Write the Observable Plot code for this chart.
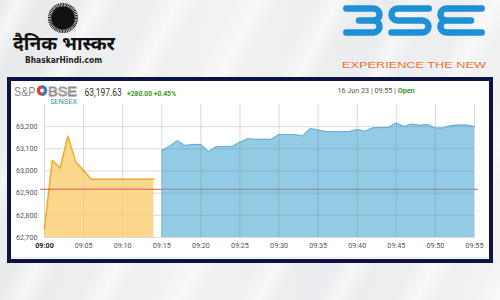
<!DOCTYPE html>
<html><head><meta charset="utf-8">
<script src="https://cdn.jsdelivr.net/npm/d3@7"></script>
<script src="https://cdn.jsdelivr.net/npm/@observablehq/plot@0.6"></script>
<style>
html,body{margin:0;padding:0;}
body{width:500px;height:300px;overflow:hidden;font-family:Roboto,"DejaVu Sans",sans-serif;}
#page{position:relative;width:500px;height:300px;overflow:hidden;
  background:
   repeating-linear-gradient(118deg, rgba(255,255,255,0) 0px, rgba(255,255,255,0.55) 18px, rgba(255,255,255,0) 36px, rgba(255,255,255,0) 70px),
   linear-gradient(100deg,#e8e9ec 0%,#f2f2f4 40%,#ebecef 70%,#f3f3f5 100%);}
#frame{position:absolute;left:7px;top:77px;width:486px;height:186px;box-sizing:border-box;border:4px solid #0c1242;background:#fff;}
#chart{position:absolute;left:0;top:0;}
#bline{position:absolute;left:0;top:176px;width:478px;height:1px;background:#e2e4e8;}
#deco{position:absolute;left:0;top:0;pointer-events:none;}
</style></head>
<body><div id="page">
<div id="frame"><div id="chart"></div><div id="bline"></div></div>
<svg id="deco" width="500" height="300" viewBox="0 0 500 300">
  <!-- Dainik Bhaskar logo -->
  <circle cx="63" cy="18" r="13.3" fill="none" stroke="#111" stroke-width="3.6" stroke-dasharray="0.9 0.7"/>
  <circle cx="63" cy="18" r="11.8" fill="#111"/>
  <text x="13" y="50" font-family="'Noto Sans','DejaVu Sans',sans-serif" font-weight="bold" font-size="18.5" fill="#111" textLength="102" lengthAdjust="spacingAndGlyphs">दैनिक भास्कर</text>
  <text x="25" y="62.5" font-family="'DejaVu Sans Condensed','DejaVu Sans',sans-serif" font-weight="bold" font-size="8" fill="#222" textLength="77" lengthAdjust="spacingAndGlyphs">BhaskarHindi.com</text>
  <!-- BSE logo -->
  <g fill="none" stroke="#1e90d6" stroke-width="6.5" stroke-linecap="round" stroke-linejoin="round">
    <path d="M346.3,8.5 H373.5 A6,6 0 0 1 373.5,20.5 H359 M373.5,20.5 A6,6 0 0 1 373.5,32.5 H346.3"/>
    <path d="M428.7,8.5 H397.5 A6,6 0 0 0 397.5,20.5 H422.5 A6,6 0 0 1 422.5,32.5 H391.5"/>
    <path d="M481.7,8.5 H446.5 A6,6 0 0 0 446.5,20.5 H471 M446.5,20.5 A6,6 0 0 0 446.5,32.5 H481.7"/>
  </g>
  <text x="342" y="67.5" font-family="'Liberation Sans',sans-serif" font-size="9.6" fill="#e9722c" textLength="144" lengthAdjust="spacingAndGlyphs">EXPERIENCE THE NEW</text>
  <!-- panel header -->
  <text x="14" y="96" font-family="'Liberation Sans',sans-serif" font-size="12.5" fill="#8c8c8c" textLength="21.5" lengthAdjust="spacingAndGlyphs">S&amp;P</text>
  <circle cx="42" cy="90.5" r="5.2" fill="#d8403c"/>
  <path d="M42,85.3 A5.2,5.2 0 0 1 42,95.7 Z" fill="#2f7fc1"/>
  <circle cx="42" cy="90.5" r="2" fill="#fff"/>
  <text x="48" y="95.5" font-family="'Liberation Sans',sans-serif" font-size="12.5" fill="none" stroke="#8c8c8c" stroke-width="0.8" textLength="29" lengthAdjust="spacingAndGlyphs">BSE</text>
  <text x="50" y="104" font-family="Roboto,sans-serif" font-size="7" fill="#3f93a8" textLength="27" lengthAdjust="spacingAndGlyphs">SENSEX</text>
  <text transform="translate(84.5,96) scale(1,1.25)" x="0" y="0" font-family="Roboto,sans-serif" font-size="8.5" fill="#333">63,197.63</text>
  <text x="127" y="95.5" font-family="Roboto,sans-serif" font-size="7.8" font-weight="bold" fill="#3a9a1c" textLength="49" lengthAdjust="spacingAndGlyphs">+280.00 +0.45%</text>
  <text x="337.5" y="93" font-family="Roboto,sans-serif" font-size="7.2" fill="#555">16 Jun 23 | 09:55 | <tspan fill="#3a9a1c" font-weight="bold">Open</tspan></text>
</svg>
</div>
<script>
// ---- data ----
const prevClose = 62917.63;
const orangeTimes = ["09:00","09:01","09:02","09:03","09:04","09:05","09:06","09:07","09:08","09:09","09:10","09:11","09:12","09:13","09:14"];
const orangeValues = [62741,63048,63013,63157,63040,63002,62963,62963,62963,62963,62963,62963,62963,62963,62963];
const blueTimes = ["09:15","09:16","09:17","09:18","09:19","09:20","09:21","09:22","09:23","09:24",
  "09:25","09:26","09:27","09:28","09:29","09:30","09:31","09:32","09:33","09:34",
  "09:35","09:36","09:37","09:38","09:39","09:40","09:41","09:42","09:43","09:44",
  "09:45","09:46","09:47","09:48","09:49","09:50","09:51","09:52","09:53","09:54","09:55"];
const blueValues = [63092,63112,63137,63115,63120,63120,63088,63110,63111,63111,
  63130,63145,63143,63143,63143,63165,63165,63165,63158,63192,
  63185,63178,63177,63177,63178,63187,63179,63195,63196,63197,
  63217,63201,63212,63206,63210,63194,63194,63205,63207,63207,63200];
const xTickLabels = ["09:00","09:05","09:10","09:15","09:20","09:25","09:30","09:35","09:40","09:45","09:50","09:55"];
const yTickValues = [62700,62800,62900,63000,63100,63200];
const yDomain = [62700,63300];

// ---- build ----
const toMin = s => { const [h,m] = s.split(":").map(Number); return (h-9)*60+m; };
const orange = orangeTimes.map((t,i)=>({t:toMin(t), v:orangeValues[i]}));
const blue = blueTimes.map((t,i)=>({t:toMin(t), v:blueValues[i]}));
const xTicks = xTickLabels.map(toMin);
const labelOf = new Map(xTickLabels.map(s=>[toMin(s), s]));
const base = yDomain[0];

const chart = Plot.plot({
  width: 478, height: 178,
  marginLeft: 33, marginRight: 15, marginTop: 23, marginBottom: 22,
  x: {type:"linear", domain:[xTicks[0], xTicks[xTicks.length-1]], label:null},
  y: {domain: yDomain, label:null},
  style: {background:"transparent", fontFamily:"Roboto, sans-serif", fontSize:"7.2px", color:"#555", overflow:"visible"},
  marks: [
    Plot.gridY(yTickValues, {stroke:"#e3e3e3", strokeOpacity:1}),
    Plot.gridX(xTicks, {stroke:"#e3e3e3", strokeOpacity:1}),
    Plot.areaY(orange, {x:"t", y1: base, y2:"v", fill:"#fcd88e"}),
    Plot.lineY(orange, {x:"t", y:"v", stroke:"#f2ac2c", strokeWidth:1.5}),
    Plot.ruleY([prevClose], {stroke:"#e0554a", strokeWidth:1, insetLeft:-4, insetRight:-4}),
    Plot.areaY(blue, {x:"t", y1: base, y2:"v", fill:"#4ba8d2", fillOpacity:0.6}),
    Plot.lineY(blue, {x:"t", y:"v", stroke:"#62aed6", strokeWidth:1}),
    Plot.gridX(xTicks, {stroke:"#000", strokeOpacity:0.045}),
    Plot.gridY(yTickValues, {stroke:"#000", strokeOpacity:0.035}),
    Plot.axisY(yTickValues, {tickSize:0, tickPadding:7, tickFormat:d3.format(","), fill:"#555", label:null}),
    Plot.axisX(xTicks, {tickSize:0, tickPadding:5, tickFormat: d => labelOf.get(d), fill:"#555", label:null})
  ]
});
document.getElementById("chart").appendChild(chart);
const xt = d3.select(chart).selectAll("g[aria-label='x-axis tick label'] text");
xt.filter((d,i)=>i===0).attr("font-weight","bold").attr("fill","#222");
</script>
</body></html>
